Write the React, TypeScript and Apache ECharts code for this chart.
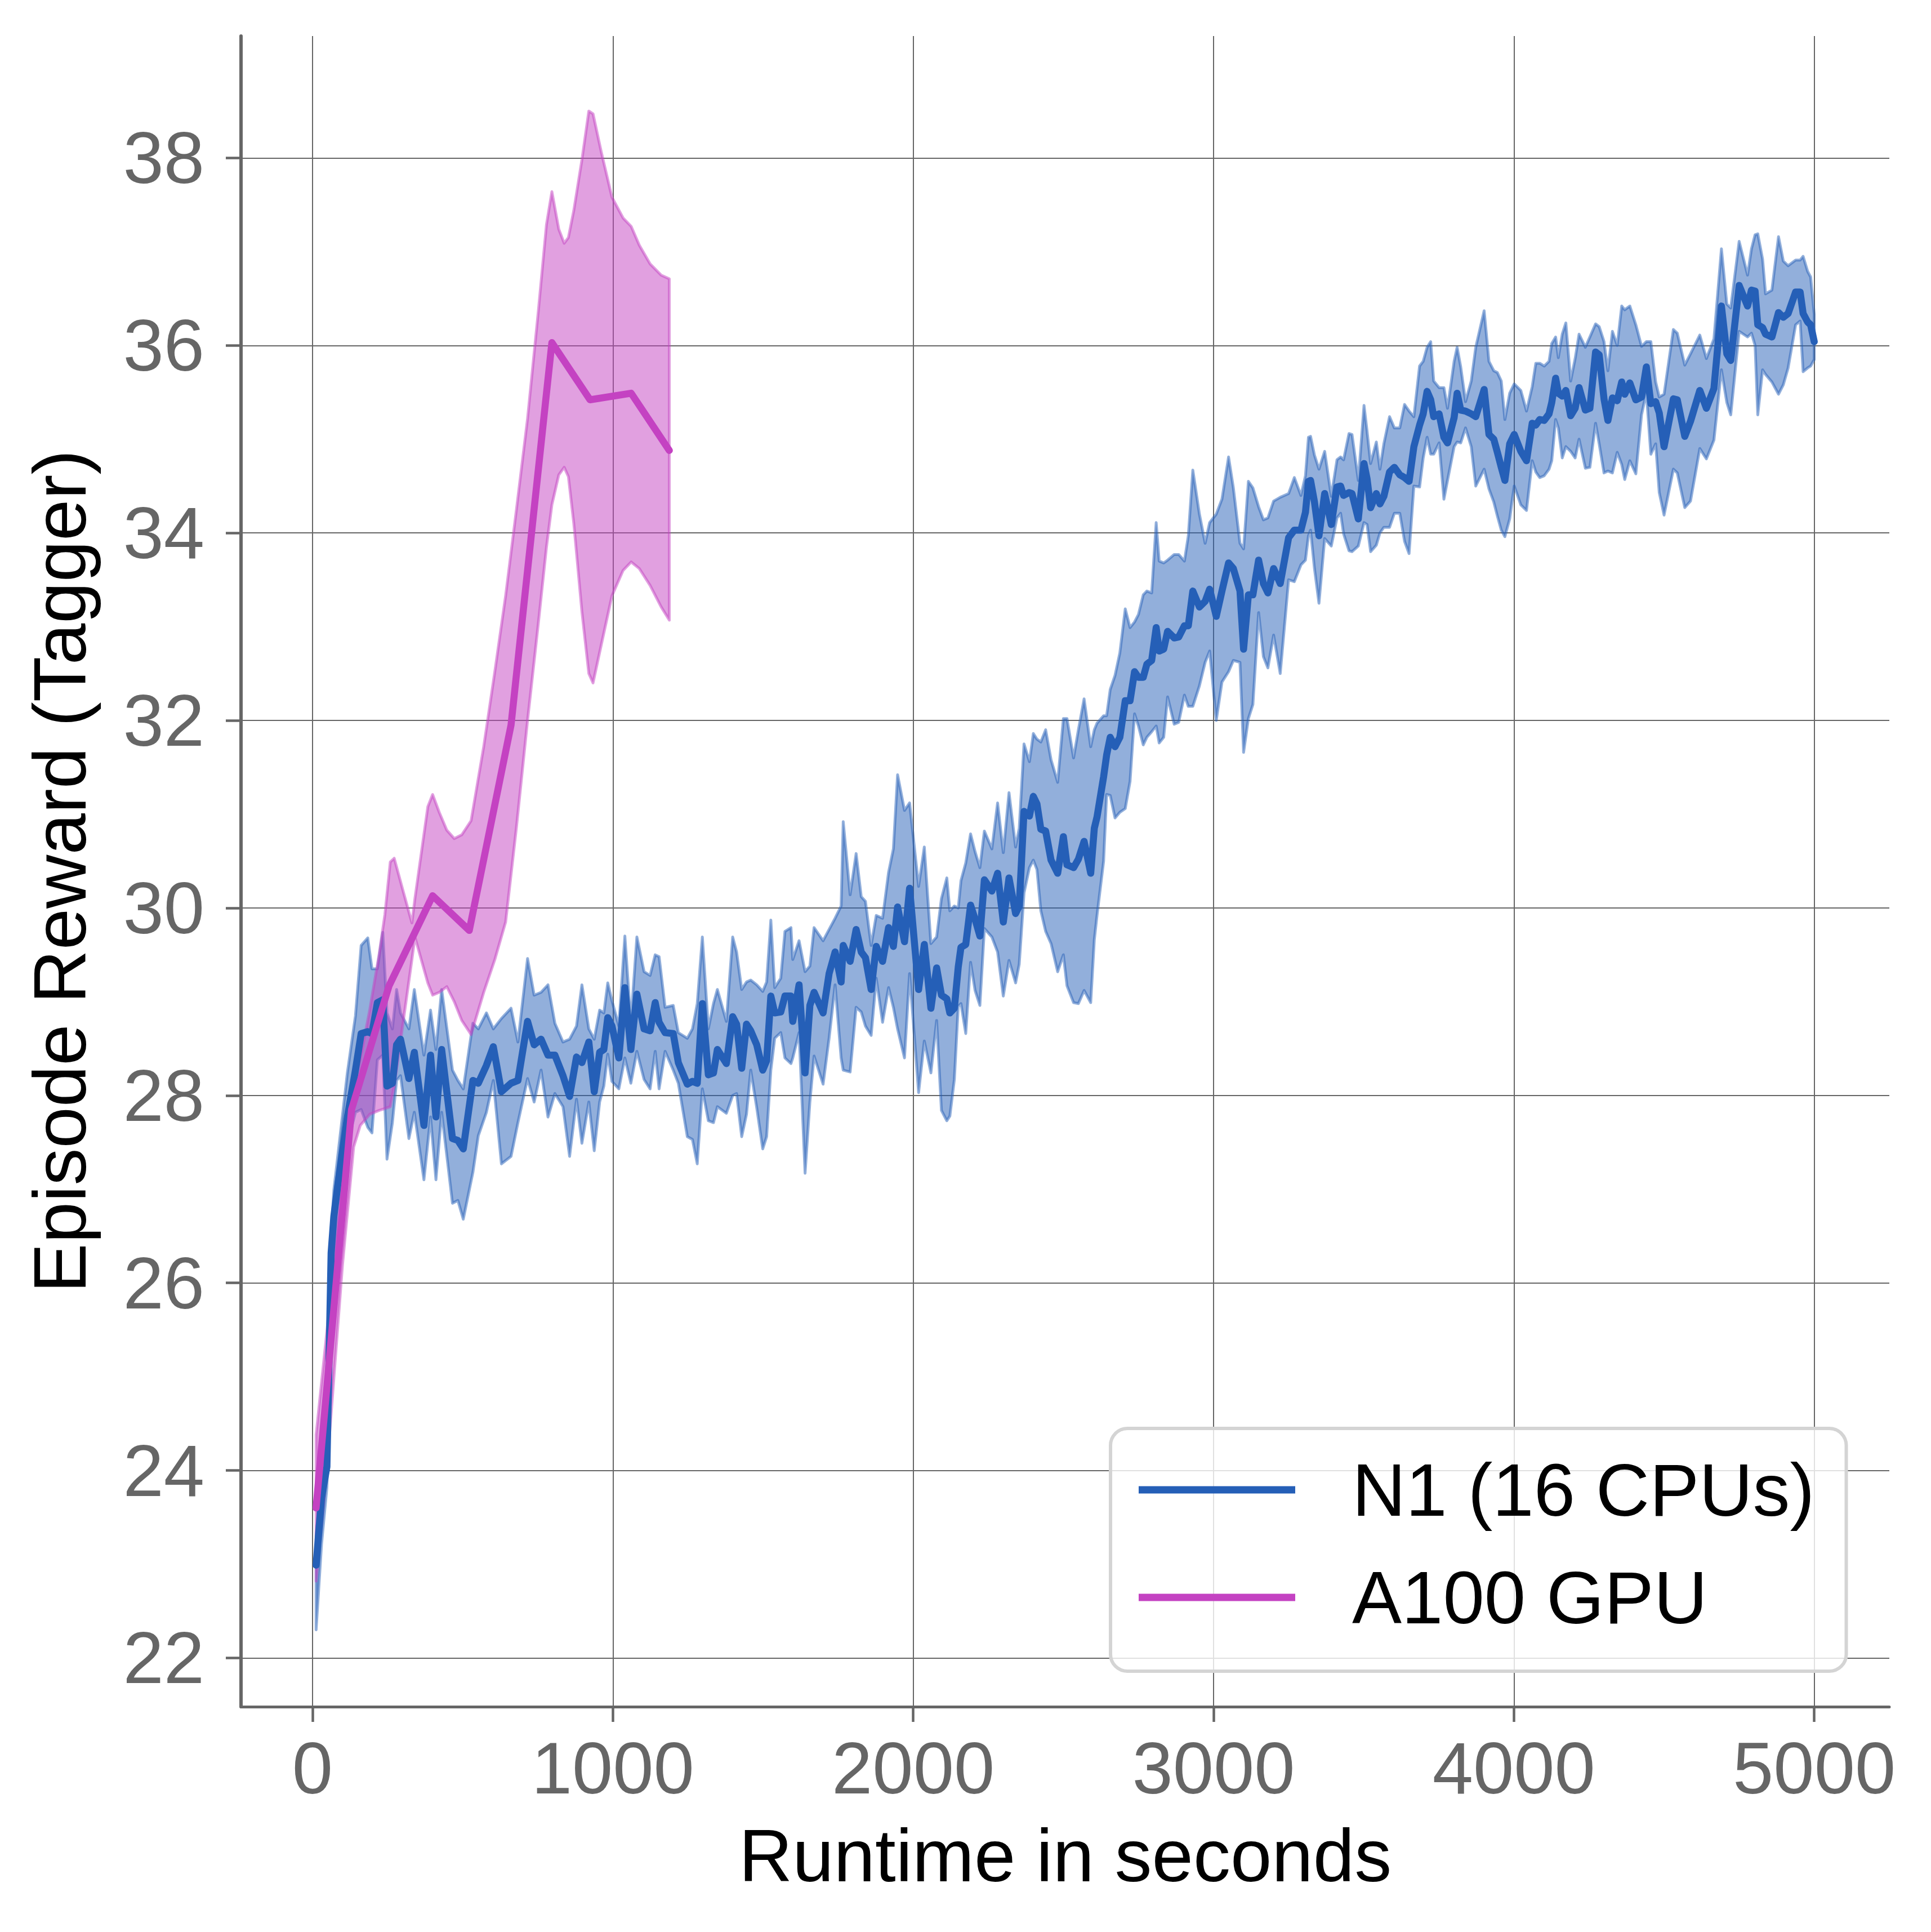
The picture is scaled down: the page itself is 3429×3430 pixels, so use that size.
import React, { useEffect, useRef } from "react";
import * as echarts from "echarts";

const FONT = "'Liberation Sans', Arial, Helvetica, sans-serif";

const xTicks = [0, 1000, 2000, 3000, 4000, 5000];
const yTicks = [22, 24, 26, 28, 30, 32, 34, 36, 38];

// N1 (16 CPUs): runtime (s), mean reward, upper / lower band edge
const n1X = [
  12, 30, 48, 62, 71, 84, 116, 143, 162, 184, 198, 216, 234, 248, 266, 280, 293, 321, 339, 371,
  393, 411, 430, 466, 484, 502, 534, 552, 579, 602, 629, 661, 684, 716, 738, 761, 784, 807, 834, 856,
  879, 897, 920, 938, 956, 970, 983, 997, 1020, 1040, 1060, 1080, 1104, 1124, 1141, 1154, 1174, 1201, 1218, 1248,
  1265, 1281, 1298, 1318, 1335, 1348, 1378, 1399, 1412, 1429, 1445, 1459, 1479, 1499, 1512, 1526, 1539, 1559, 1573, 1593,
  1599, 1620, 1640, 1656, 1670, 1700, 1720, 1740, 1760, 1767, 1790, 1810, 1827, 1841, 1860, 1877, 1898, 1918, 1934, 1948,
  1971, 1988, 2018, 2037, 2059, 2078, 2094, 2112, 2122, 2137, 2150, 2159, 2175, 2191, 2206, 2222, 2237, 2262, 2281, 2300,
  2319, 2341, 2353, 2369, 2387, 2400, 2412, 2425, 2441, 2459, 2481, 2500, 2512, 2534, 2550, 2569, 2591, 2603, 2612, 2634,
  2644, 2656, 2672, 2688, 2706, 2722, 2737, 2750, 2766, 2778, 2794, 2809, 2819, 2834, 2847, 2869, 2884, 2903, 2916, 2931,
  2953, 2972, 2987, 3009, 3028, 3050, 3066, 3088, 3100, 3116, 3131, 3150, 3166, 3181, 3200, 3222, 3250, 3269, 3291, 3306,
  3316, 3323, 3336, 3351, 3370, 3392, 3411, 3423, 3433, 3451, 3461, 3482, 3501, 3511, 3523, 3542, 3554, 3567, 3586, 3602,
  3620, 3636, 3651, 3667, 3686, 3698, 3711, 3723, 3733, 3751, 3767, 3779, 3801, 3811, 3823, 3839, 3858, 3873, 3901, 3917,
  3933, 3945, 3958, 3970, 3986, 4001, 4023, 4042, 4061, 4073, 4086, 4101, 4117, 4126, 4139, 4148, 4161, 4173, 4189, 4204,
  4217, 4238, 4253, 4272, 4284, 4300, 4313, 4328, 4344, 4359, 4369, 4386, 4406, 4425, 4441, 4456, 4472, 4484, 4500, 4531,
  4544, 4569, 4588, 4619, 4641, 4666, 4691, 4709, 4722, 4750, 4778, 4791, 4803, 4812, 4828, 4838, 4859, 4881, 4897, 4913,
  4938, 4953, 4963, 4978, 4988, 5000,
];
const n1Mean = [
  22.99, 23.71, 24.04, 26.32, 26.71, 27.04, 27.77, 28.27, 28.66, 28.68, 28.66, 28.99, 29.02, 28.1, 28.13, 28.54, 28.6, 28.18, 28.46, 27.68,
  28.43, 27.77, 28.49, 27.54, 27.52, 27.43, 28.16, 28.13, 28.32, 28.52, 28.04, 28.13, 28.16, 28.79, 28.54, 28.6, 28.43, 28.43, 28.21, 27.99,
  28.41, 28.35, 28.57, 28.04, 28.46, 28.49, 28.83, 28.74, 28.4, 29.15, 28.49, 29.08, 28.71, 28.69, 28.99, 28.78, 28.67, 28.66, 28.35, 28.12,
  28.15, 28.13, 28.98, 28.22, 28.24, 28.49, 28.34, 28.84, 28.76, 28.29, 28.76, 28.69, 28.54, 28.27, 28.37, 29.06, 28.88, 28.89, 29.06, 29.06,
  28.79, 29.18, 28.24, 28.96, 29.1, 28.88, 29.3, 29.53, 29.21, 29.6, 29.43, 29.77, 29.53, 29.47, 29.13, 29.59, 29.43, 29.79, 29.59, 30.01,
  29.64, 30.21, 29.13, 29.61, 28.93, 29.36, 29.07, 29.03, 28.88, 28.93, 29.37, 29.58, 29.61, 30.03, 29.88, 29.7, 30.3, 30.18, 30.37, 29.85,
  30.32, 29.94, 30.02, 31.03, 30.98, 31.19, 31.11, 30.84, 30.82, 30.51, 30.37, 30.76, 30.46, 30.43, 30.52, 30.71, 30.37, 30.85, 30.97, 31.4,
  31.63, 31.82, 31.72, 31.82, 32.21, 32.21, 32.52, 32.46, 32.46, 32.6, 32.64, 32.99, 32.74, 32.76, 32.95, 32.88, 32.89, 33.01, 33.01, 33.38,
  33.21, 33.27, 33.4, 33.11, 33.38, 33.68, 33.62, 33.38, 32.76, 33.34, 33.34, 33.71, 33.46, 33.36, 33.62, 33.46, 33.95, 34.03, 34.03, 34.22,
  34.55, 34.56, 34.33, 33.97, 34.42, 34.09, 34.49, 34.5, 34.4, 34.43, 34.42, 34.15, 34.74, 34.58, 34.27, 34.42, 34.31, 34.39, 34.65, 34.7,
  34.62, 34.59, 34.55, 34.92, 35.15, 35.27, 35.51, 35.42, 35.24, 35.27, 35.02, 34.96, 35.23, 35.49, 35.31, 35.3, 35.27, 35.24, 35.53, 35.05,
  35.0, 34.86, 34.7, 34.56, 34.95, 35.05, 34.87, 34.77, 35.17, 35.15, 35.21, 35.2, 35.27, 35.39, 35.65, 35.49, 35.46, 35.52, 35.25, 35.33,
  35.55, 35.31, 35.33, 35.93, 35.9, 35.43, 35.2, 35.44, 35.41, 35.61, 35.48, 35.6, 35.42, 35.45, 35.77, 35.38, 35.4, 35.28, 34.92, 35.43,
  35.42, 35.03, 35.19, 35.52, 35.33, 35.54, 36.42, 35.91, 35.84, 36.64, 36.42, 36.59, 36.58, 36.22, 36.19, 36.12, 36.09, 36.35, 36.3, 36.34,
  36.57, 36.57, 36.34, 36.25, 36.22, 36.04,
];
const n1Upper = [
  23.3, 23.99, 24.5, 26.49, 26.99, 27.35, 28.24, 28.85, 29.6, 29.68, 29.35, 29.35, 29.74, 28.88, 28.71, 29.13, 28.88, 28.71, 29.13, 28.43,
  28.91, 28.49, 29.13, 28.27, 28.16, 28.07, 28.77, 28.71, 28.88, 28.71, 28.82, 28.93, 28.57, 29.46, 29.07, 29.1, 29.18, 28.77, 28.57, 28.6,
  28.74, 29.18, 28.71, 28.6, 28.91, 28.88, 29.2, 29.01, 28.74, 29.7, 28.78, 29.69, 29.32, 29.28, 29.5, 29.48, 28.94, 28.96, 28.67, 28.61,
  28.71, 28.98, 29.69, 28.71, 28.98, 29.13, 28.79, 29.69, 29.53, 29.13, 29.21, 29.23, 29.18, 29.11, 29.21, 29.87, 29.15, 29.25, 29.75, 29.79,
  29.45, 29.65, 29.32, 29.38, 29.79, 29.65, 29.77, 29.89, 30.02, 30.92, 30.14, 30.58, 30.12, 30.07, 29.6, 29.92, 29.89, 30.38, 30.63, 31.42,
  31.04, 31.12, 30.23, 30.65, 29.62, 29.69, 30.1, 30.32, 29.97, 30.02, 30.0, 30.29, 30.48, 30.79, 30.6, 30.43, 30.82, 30.63, 31.12, 30.59,
  31.23, 30.65, 30.85, 31.75, 31.56, 31.86, 31.8, 31.77, 31.9, 31.58, 31.34, 32.02, 32.02, 31.6, 31.9, 32.23, 31.72, 31.9, 31.97, 32.05,
  32.05, 32.33, 32.48, 32.72, 33.19, 32.99, 33.05, 33.13, 33.34, 33.38, 33.36, 34.11, 33.7, 33.68, 33.71, 33.77, 33.77, 33.7, 33.97, 34.67,
  34.2, 33.89, 34.11, 34.2, 34.36, 34.81, 34.48, 33.89, 33.83, 34.55, 34.48, 34.28, 34.14, 34.16, 34.34, 34.38, 34.42, 34.59, 34.4, 34.61,
  35.02, 35.03, 34.83, 34.68, 34.87, 34.39, 34.78, 34.81, 34.78, 35.06, 35.05, 34.56, 35.36, 35.09, 34.74, 34.97, 34.68, 34.95, 35.24, 35.12,
  35.12, 35.37, 35.3, 35.24, 35.78, 35.83, 35.98, 36.04, 35.62, 35.55, 35.55, 35.33, 35.83, 35.98, 35.77, 35.4, 35.62, 35.98, 36.37, 35.83,
  35.73, 35.71, 35.62, 35.21, 35.49, 35.59, 35.52, 35.3, 35.56, 35.81, 35.81, 35.78, 35.83, 36.02, 36.09, 35.87, 36.12, 36.24, 35.62, 35.86,
  36.12, 35.98, 36.09, 36.23, 36.2, 36.04, 35.73, 36.15, 36.0, 36.42, 36.38, 36.42, 36.22, 35.99, 36.04, 36.04, 35.61, 35.45, 35.48, 36.17,
  36.13, 35.79, 35.91, 36.11, 35.86, 36.07, 37.03, 36.44, 36.4, 37.11, 36.75, 37.03, 37.18, 37.19, 36.92, 36.55, 36.59, 37.16, 36.9, 36.85,
  36.91, 36.91, 36.95, 36.79, 36.73, 36.33,
];
const n1Lower = [
  22.3, 23.21, 23.82, 25.38, 26.16, 26.82, 27.49, 27.82, 27.85, 27.66, 27.6, 28.38, 28.43, 27.32, 27.71, 28.16, 28.21, 27.54, 27.82, 27.1,
  27.77, 27.1, 27.82, 26.85, 26.88, 26.68, 27.18, 27.57, 27.82, 28.16, 27.27, 27.35, 27.71, 28.18, 27.93, 28.27, 27.77, 28.02, 27.88, 27.35,
  27.96, 27.49, 27.93, 27.41, 27.93, 28.1, 28.44, 28.15, 28.07, 28.4, 28.13, 28.47, 28.17, 28.07, 28.47, 28.07, 28.47, 28.27, 28.13, 27.56,
  27.53, 27.27, 28.07, 27.73, 27.71, 27.88, 27.81, 28.0, 28.02, 27.56, 27.8, 28.27, 27.87, 27.43, 27.56, 28.27, 28.61, 28.67, 28.4, 28.34,
  28.4, 28.67, 27.17, 27.93, 28.42, 28.12, 28.61, 29.18, 28.4, 28.27, 28.25, 28.94, 28.89, 28.74, 28.64, 29.25, 28.78, 29.15, 28.94, 28.71,
  28.4, 29.3, 28.03, 28.58, 28.24, 28.8, 27.84, 27.73, 27.78, 28.17, 28.95, 28.98, 28.66, 29.42, 29.12, 28.96, 29.78, 29.69, 29.53, 29.06,
  29.44, 29.2, 29.4, 30.16, 30.43, 30.51, 30.41, 29.97, 29.75, 29.62, 29.32, 29.5, 29.17, 28.99, 28.98, 29.12, 28.99, 29.66, 29.92, 30.5,
  31.21, 31.2, 30.96, 31.02, 31.06, 31.35, 32.07, 31.94, 31.74, 31.82, 31.88, 31.94, 31.76, 31.82, 32.25, 31.96, 31.98, 32.27, 32.15, 32.15,
  32.37, 32.62, 32.74, 32.0, 32.41, 32.52, 32.64, 32.62, 31.66, 32.02, 32.17, 33.15, 32.68, 32.56, 32.91, 32.5, 33.5, 33.48, 33.66, 33.71,
  33.97, 34.03, 33.62, 33.25, 33.94, 33.86, 34.16, 34.21, 33.99, 33.81, 33.8, 33.86, 34.11, 34.09, 33.8, 33.87, 34.0, 34.06, 34.06, 34.21,
  34.21, 33.91, 33.78, 34.5, 34.49, 34.8, 35.02, 34.84, 34.84, 34.96, 34.36, 34.56, 34.92, 34.97, 34.96, 35.12, 34.92, 34.5, 34.68, 34.47,
  34.33, 34.18, 34.03, 33.96, 34.15, 34.5, 34.3, 34.24, 34.77, 34.65, 34.59, 34.61, 34.68, 34.77, 35.21, 35.12, 34.8, 34.92, 34.87, 34.8,
  35.0, 34.69, 34.7, 35.17, 34.95, 34.64, 34.66, 34.64, 34.86, 34.73, 34.57, 34.77, 34.63, 35.26, 35.5, 34.84, 34.95, 34.43, 34.19, 34.68,
  34.64, 34.27, 34.34, 34.9, 34.79, 34.99, 35.74, 35.39, 35.26, 36.15, 36.09, 36.13, 36.0, 35.26, 35.74, 35.69, 35.61, 35.48, 35.58, 35.76,
  36.22, 36.26, 35.72, 35.76, 35.78, 35.85,
];

// A100 GPU: mean line and confidence band
const a100X = [12, 130, 255, 400, 522, 661, 797, 924, 1061, 1188];
const a100Mean = [23.6, 27.85, 29.17, 30.13, 29.76, 31.95, 36.03, 35.42, 35.49, 34.88];
const a100BandX = [
  12, 50, 100, 137, 159, 191, 222, 241, 259, 272, 300, 331, 341, 384, 400, 422, 447, 472, 497, 528,
  570, 607, 643, 679, 716, 752, 779, 797, 820, 838, 852, 870, 897, 920, 934, 961, 997, 1034, 1061, 1088,
  1124, 1161, 1188,
];
const a100Upper = [
  24.38, 25.55, 27.2, 28.1, 28.39, 28.92, 29.51, 29.93, 30.49, 30.53, 30.2, 29.84, 30.1, 31.08, 31.21, 31.02, 30.83, 30.74, 30.78, 30.93,
  31.72, 32.52, 33.33, 34.25, 35.22, 36.37, 37.29, 37.64, 37.24, 37.09, 37.15, 37.44, 37.98, 38.5, 38.47, 38.07, 37.58, 37.36, 37.27, 37.07,
  36.87, 36.75, 36.71,
];
const a100Lower = [
  22.82, 24.1, 26.2, 27.45, 27.68, 27.8, 27.84, 27.86, 27.88, 28.1, 28.74, 29.45, 29.69, 29.2, 29.07, 29.1, 29.16, 29.0, 28.8, 28.65,
  29.1, 29.45, 29.85, 30.86, 32.0, 33.04, 33.85, 34.3, 34.62, 34.7, 34.6, 34.1, 33.16, 32.5, 32.4, 32.8, 33.33, 33.6, 33.69, 33.62,
  33.44, 33.21, 33.07,
];

const N1_NAME = "N1 (16 CPUs)";
const A100_NAME = "A100 GPU";
const N1_COLOR = "#255FB7";
const A100_COLOR = "#C442C2";

function bandSeries(name: string, xs: number[], up: number[], lo: number[], color: string) {
  return {
    type: "custom",
    name,
    z: 1,
    silent: true,
    data: [[xs[0], up[0]]],
    renderItem: (_params: any, api: any) => {
      const top = xs.map((x, i) => api.coord([x, up[i]]));
      const bot = xs.map((x, i) => api.coord([x, lo[i]])).reverse();
      return {
        type: "polygon",
        shape: { points: top.concat(bot) },
        style: { fill: color, stroke: color, lineWidth: 5, lineJoin: "round" },
      };
    },
  };
}

function lineSeries(name: string, xs: number[], ys: number[], color: string) {
  return {
    type: "line",
    name,
    z: 3,
    silent: true,
    showSymbol: false,
    symbol: "none",
    color,
    itemStyle: { color },
    lineStyle: { color, width: 12.5, cap: "round", join: "round" },
    data: xs.map((x, i) => [x, ys[i]]),
  };
}

export default function App() {
  const ref = useRef<HTMLDivElement>(null);
  useEffect(() => {
    if (!ref.current) return;
    const chart = echarts.init(ref.current, undefined, { renderer: "svg" });
    const axisGrey = "#666666";
    chart.setOption({
      animation: false,
      backgroundColor: "#ffffff",
      grid: { left: 428, right: 74, top: 64, bottom: 400 },
      xAxis: {
        type: "value",
        min: -238,
        max: 5250,
        name: "Runtime in seconds",
        nameLocation: "middle",
        nameGap: 198,
        nameTextStyle: { fontSize: 132, color: "#000", fontFamily: FONT },
        axisLine: { show: true, onZero: false, lineStyle: { color: axisGrey, width: 5 } },
        axisTick: { show: true, customValues: xTicks, length: 27, lineStyle: { color: axisGrey, width: 4.5 } },
        axisLabel: {
          customValues: xTicks,
          fontSize: 130,
          color: axisGrey,
          margin: 44,
          fontFamily: FONT,
          formatter: (v: number) => String(v),
        },
        splitLine: { show: true, lineStyle: { color: axisGrey, width: 2 } },
      },
      yAxis: {
        type: "value",
        min: 21.48,
        max: 39.3,
        name: "Episode Reward (Tagger)",
        nameLocation: "middle",
        nameGap: 256,
        nameTextStyle: { fontSize: 132, color: "#000", fontFamily: FONT },
        axisLine: { show: true, onZero: false, lineStyle: { color: axisGrey, width: 6 } },
        axisTick: { show: true, customValues: yTicks, length: 27, lineStyle: { color: axisGrey, width: 4.5 } },
        axisLabel: {
          customValues: yTicks,
          fontSize: 130,
          color: axisGrey,
          margin: 65,
          fontFamily: FONT,
          formatter: (v: number) => String(v),
        },
        splitLine: { show: true, lineStyle: { color: axisGrey, width: 2 } },
      },
      legend: {
        data: [N1_NAME, A100_NAME],
        orient: "vertical",
        left: 1972,
        top: 2536,
        padding: [34, 56, 56, 50],
        itemWidth: 278,
        itemHeight: 13,
        itemGap: 41,
        icon: "rect",
        selectedMode: false,
        backgroundColor: "rgba(255,255,255,0.8)",
        borderColor: "#d4d4d4",
        borderWidth: 6,
        borderRadius: 30,
        textStyle: { fontSize: 132, color: "#000", fontFamily: FONT, lineHeight: 150, padding: [0, 0, 0, 96] },
      },
      series: [
        bandSeries("N1 band", n1X, n1Upper, n1Lower, "rgba(37,95,183,0.5)"),
        bandSeries("A100 band", a100BandX, a100Upper, a100Lower, "rgba(196,66,194,0.5)"),
        lineSeries(N1_NAME, n1X, n1Mean, N1_COLOR),
        lineSeries(A100_NAME, a100X, a100Mean, A100_COLOR),
      ],
    });
    return () => chart.dispose();
  }, []);
  return (
    <div
      ref={ref}
      style={{ position: "fixed", left: 0, top: 0, width: 3429, height: 3430, background: "#fff" }}
    />
  );
}
